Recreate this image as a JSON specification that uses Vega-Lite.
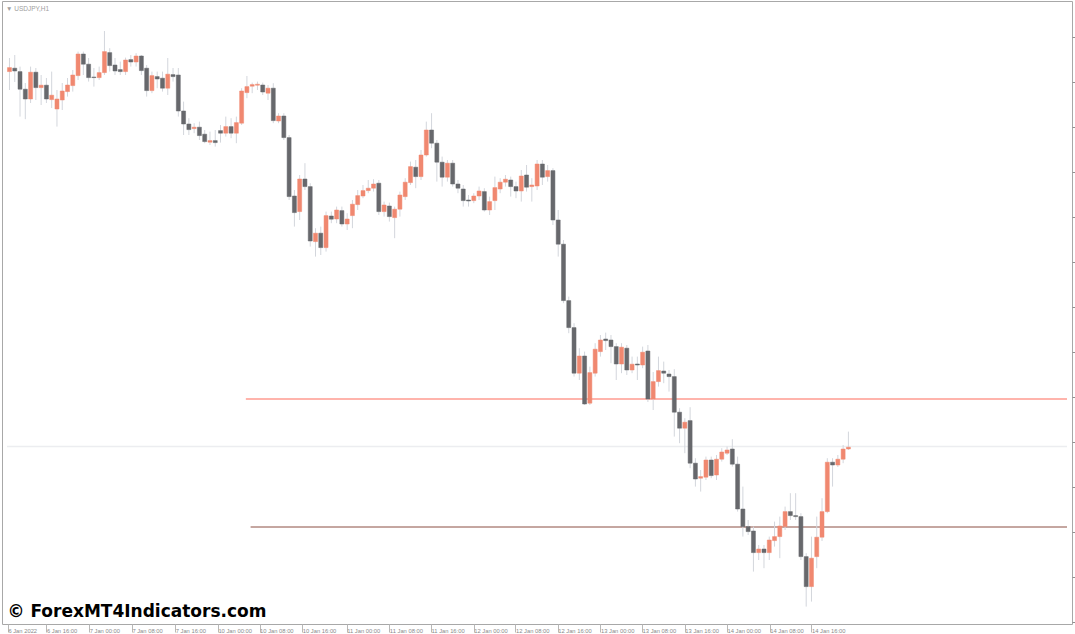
{
  "$schema": "https://vega.github.io/schema/vega-lite/v6.json",
  "width": 1070,
  "height": 623,
  "autosize": {"type": "none"},
  "padding": {"left": 2, "top": 1, "right": 3, "bottom": 10},
  "background": "#ffffff",
  "title": {"text": "▼ USDJPY,H1", "anchor": "start", "frame": "group", "orient": "top", "offset": -14, "dx": 4, "fontSize": 6.5, "font": "Liberation Sans", "fontWeight": "normal", "color": "#a0a0a0", "baseline": "middle"},
  "config": {"view": {"stroke": "#a8a8a8", "strokeWidth": 1}, "axis": {"grid": false}},
  "datasets": {
    "candles": [
      {"i":0,"o":116.142,"h":116.21,"l":116.05,"c":116.162},
      {"i":1,"o":116.159,"h":116.225,"l":116.09,"c":116.145},
      {"i":2,"o":116.142,"h":116.167,"l":115.917,"c":116.054},
      {"i":3,"o":116.054,"h":116.085,"l":115.904,"c":116.005},
      {"i":4,"o":116.005,"h":116.167,"l":115.985,"c":116.139},
      {"i":5,"o":116.139,"h":116.16,"l":116.0,"c":116.062},
      {"i":6,"o":116.062,"h":116.125,"l":115.975,"c":116.074},
      {"i":7,"o":116.074,"h":116.11,"l":115.985,"c":116.005},
      {"i":8,"o":116.002,"h":116.142,"l":115.96,"c":116.024},
      {"i":9,"o":115.955,"h":116.05,"l":115.867,"c":116.005},
      {"i":10,"o":116.0,"h":116.085,"l":115.95,"c":116.045},
      {"i":11,"o":116.042,"h":116.11,"l":116.017,"c":116.075},
      {"i":12,"o":116.072,"h":116.15,"l":116.042,"c":116.125},
      {"i":13,"o":116.122,"h":116.242,"l":116.1,"c":116.23},
      {"i":14,"o":116.23,"h":116.242,"l":116.125,"c":116.179},
      {"i":15,"o":116.179,"h":116.21,"l":116.092,"c":116.112},
      {"i":16,"o":116.115,"h":116.16,"l":116.067,"c":116.112},
      {"i":17,"o":116.112,"h":116.167,"l":116.1,"c":116.137},
      {"i":18,"o":116.137,"h":116.345,"l":116.125,"c":116.242},
      {"i":19,"o":116.237,"h":116.259,"l":116.142,"c":116.172},
      {"i":20,"o":116.175,"h":116.21,"l":116.125,"c":116.145},
      {"i":21,"o":116.152,"h":116.192,"l":116.125,"c":116.142},
      {"i":22,"o":116.142,"h":116.212,"l":116.125,"c":116.2},
      {"i":23,"o":116.202,"h":116.225,"l":116.167,"c":116.19},
      {"i":24,"o":116.19,"h":116.234,"l":116.167,"c":116.22},
      {"i":25,"o":116.22,"h":116.225,"l":116.125,"c":116.147},
      {"i":26,"o":116.159,"h":116.175,"l":116.017,"c":116.047},
      {"i":27,"o":116.047,"h":116.142,"l":116.034,"c":116.122},
      {"i":28,"o":116.117,"h":116.142,"l":116.059,"c":116.105},
      {"i":29,"o":116.109,"h":116.142,"l":116.042,"c":116.059},
      {"i":30,"o":116.059,"h":116.21,"l":116.025,"c":116.129},
      {"i":31,"o":116.127,"h":116.16,"l":116.092,"c":116.117},
      {"i":32,"o":116.125,"h":116.16,"l":115.917,"c":115.945},
      {"i":33,"o":115.945,"h":115.992,"l":115.825,"c":115.88},
      {"i":34,"o":115.88,"h":115.909,"l":115.825,"c":115.852},
      {"i":35,"o":115.857,"h":115.884,"l":115.834,"c":115.864},
      {"i":36,"o":115.864,"h":115.892,"l":115.8,"c":115.822},
      {"i":37,"o":115.829,"h":115.85,"l":115.784,"c":115.792},
      {"i":38,"o":115.789,"h":115.842,"l":115.775,"c":115.797},
      {"i":39,"o":115.797,"h":115.85,"l":115.767,"c":115.787},
      {"i":40,"o":115.847,"h":115.875,"l":115.787,"c":115.834},
      {"i":41,"o":115.834,"h":115.917,"l":115.817,"c":115.867},
      {"i":42,"o":115.867,"h":115.909,"l":115.809,"c":115.834},
      {"i":43,"o":115.834,"h":115.917,"l":115.784,"c":115.887},
      {"i":44,"o":115.884,"h":116.059,"l":115.875,"c":116.045},
      {"i":45,"o":116.037,"h":116.12,"l":116.009,"c":116.067},
      {"i":46,"o":116.069,"h":116.087,"l":116.034,"c":116.077},
      {"i":47,"o":116.074,"h":116.092,"l":116.05,"c":116.079},
      {"i":48,"o":116.075,"h":116.087,"l":116.025,"c":116.04},
      {"i":49,"o":116.034,"h":116.075,"l":116.0,"c":116.059},
      {"i":50,"o":116.059,"h":116.084,"l":115.884,"c":115.897},
      {"i":51,"o":115.895,"h":115.934,"l":115.884,"c":115.92},
      {"i":52,"o":115.92,"h":115.934,"l":115.8,"c":115.812},
      {"i":53,"o":115.812,"h":115.825,"l":115.5,"c":115.517},
      {"i":54,"o":115.52,"h":115.55,"l":115.367,"c":115.437},
      {"i":55,"o":115.442,"h":115.625,"l":115.4,"c":115.605},
      {"i":56,"o":115.605,"h":115.684,"l":115.55,"c":115.567},
      {"i":57,"o":115.567,"h":115.584,"l":115.267,"c":115.295},
      {"i":58,"o":115.292,"h":115.359,"l":115.217,"c":115.334},
      {"i":59,"o":115.334,"h":115.367,"l":115.225,"c":115.262},
      {"i":60,"o":115.262,"h":115.442,"l":115.242,"c":115.422},
      {"i":61,"o":115.42,"h":115.442,"l":115.384,"c":115.404},
      {"i":62,"o":115.405,"h":115.467,"l":115.384,"c":115.45},
      {"i":63,"o":115.447,"h":115.467,"l":115.367,"c":115.38},
      {"i":64,"o":115.38,"h":115.434,"l":115.35,"c":115.405},
      {"i":65,"o":115.422,"h":115.5,"l":115.359,"c":115.479},
      {"i":66,"o":115.477,"h":115.55,"l":115.45,"c":115.522},
      {"i":67,"o":115.52,"h":115.575,"l":115.509,"c":115.547},
      {"i":68,"o":115.547,"h":115.6,"l":115.534,"c":115.559},
      {"i":69,"o":115.559,"h":115.604,"l":115.542,"c":115.58},
      {"i":70,"o":115.584,"h":115.6,"l":115.425,"c":115.442},
      {"i":71,"o":115.442,"h":115.492,"l":115.417,"c":115.475},
      {"i":72,"o":115.47,"h":115.487,"l":115.392,"c":115.417},
      {"i":73,"o":115.412,"h":115.467,"l":115.309,"c":115.454},
      {"i":74,"o":115.454,"h":115.542,"l":115.417,"c":115.525},
      {"i":75,"o":115.517,"h":115.609,"l":115.5,"c":115.589},
      {"i":76,"o":115.587,"h":115.692,"l":115.575,"c":115.667},
      {"i":77,"o":115.664,"h":115.7,"l":115.559,"c":115.617},
      {"i":78,"o":115.617,"h":115.75,"l":115.6,"c":115.725},
      {"i":79,"o":115.725,"h":115.892,"l":115.717,"c":115.85},
      {"i":80,"o":115.85,"h":115.934,"l":115.759,"c":115.784},
      {"i":81,"o":115.784,"h":115.8,"l":115.592,"c":115.689},
      {"i":82,"o":115.689,"h":115.717,"l":115.567,"c":115.614},
      {"i":83,"o":115.614,"h":115.7,"l":115.592,"c":115.684},
      {"i":84,"o":115.684,"h":115.7,"l":115.567,"c":115.58},
      {"i":85,"o":115.58,"h":115.6,"l":115.534,"c":115.559},
      {"i":86,"o":115.555,"h":115.575,"l":115.467,"c":115.497},
      {"i":87,"o":115.5,"h":115.525,"l":115.467,"c":115.495},
      {"i":88,"o":115.497,"h":115.534,"l":115.484,"c":115.52},
      {"i":89,"o":115.52,"h":115.567,"l":115.5,"c":115.545},
      {"i":90,"o":115.542,"h":115.559,"l":115.442,"c":115.45},
      {"i":91,"o":115.45,"h":115.517,"l":115.425,"c":115.492},
      {"i":92,"o":115.497,"h":115.617,"l":115.45,"c":115.562},
      {"i":93,"o":115.555,"h":115.609,"l":115.534,"c":115.589},
      {"i":94,"o":115.589,"h":115.625,"l":115.567,"c":115.604},
      {"i":95,"o":115.6,"h":115.617,"l":115.517,"c":115.567},
      {"i":96,"o":115.567,"h":115.592,"l":115.509,"c":115.545},
      {"i":97,"o":115.545,"h":115.65,"l":115.492,"c":115.62},
      {"i":98,"o":115.625,"h":115.675,"l":115.542,"c":115.564},
      {"i":99,"o":115.567,"h":115.609,"l":115.492,"c":115.575},
      {"i":100,"o":115.57,"h":115.7,"l":115.55,"c":115.68},
      {"i":101,"o":115.68,"h":115.7,"l":115.575,"c":115.614},
      {"i":102,"o":115.617,"h":115.675,"l":115.592,"c":115.647},
      {"i":103,"o":115.647,"h":115.659,"l":115.375,"c":115.4},
      {"i":104,"o":115.4,"h":115.45,"l":115.217,"c":115.279},
      {"i":105,"o":115.279,"h":115.3,"l":114.984,"c":114.997},
      {"i":106,"o":114.997,"h":115.017,"l":114.834,"c":114.862},
      {"i":107,"o":114.862,"h":114.884,"l":114.617,"c":114.634},
      {"i":108,"o":114.634,"h":114.759,"l":114.6,"c":114.72},
      {"i":109,"o":114.72,"h":114.742,"l":114.475,"c":114.48},
      {"i":110,"o":114.484,"h":114.667,"l":114.475,"c":114.637},
      {"i":111,"o":114.634,"h":114.784,"l":114.617,"c":114.754},
      {"i":112,"o":114.742,"h":114.825,"l":114.717,"c":114.8},
      {"i":113,"o":114.805,"h":114.837,"l":114.75,"c":114.797},
      {"i":114,"o":114.8,"h":114.825,"l":114.684,"c":114.767},
      {"i":115,"o":114.767,"h":114.784,"l":114.6,"c":114.68},
      {"i":116,"o":114.68,"h":114.784,"l":114.634,"c":114.764},
      {"i":117,"o":114.759,"h":114.775,"l":114.625,"c":114.65},
      {"i":118,"o":114.65,"h":114.717,"l":114.634,"c":114.679},
      {"i":119,"o":114.68,"h":114.717,"l":114.6,"c":114.675},
      {"i":120,"o":114.675,"h":114.767,"l":114.659,"c":114.739},
      {"i":121,"o":114.745,"h":114.775,"l":114.49,"c":114.505},
      {"i":122,"o":114.505,"h":114.64,"l":114.45,"c":114.592},
      {"i":123,"o":114.592,"h":114.717,"l":114.567,"c":114.647},
      {"i":124,"o":114.645,"h":114.692,"l":114.584,"c":114.634},
      {"i":125,"o":114.63,"h":114.65,"l":114.542,"c":114.617},
      {"i":126,"o":114.617,"h":114.654,"l":114.317,"c":114.439},
      {"i":127,"o":114.439,"h":114.459,"l":114.284,"c":114.359},
      {"i":128,"o":114.359,"h":114.409,"l":114.234,"c":114.389},
      {"i":129,"o":114.397,"h":114.464,"l":114.159,"c":114.184},
      {"i":130,"o":114.184,"h":114.209,"l":114.067,"c":114.105},
      {"i":131,"o":114.109,"h":114.15,"l":114.042,"c":114.117},
      {"i":132,"o":114.114,"h":114.217,"l":114.1,"c":114.2},
      {"i":133,"o":114.2,"h":114.217,"l":114.109,"c":114.122},
      {"i":134,"o":114.125,"h":114.225,"l":114.1,"c":114.204},
      {"i":135,"o":114.204,"h":114.259,"l":114.192,"c":114.24},
      {"i":136,"o":114.234,"h":114.267,"l":114.225,"c":114.25},
      {"i":137,"o":114.255,"h":114.304,"l":114.167,"c":114.179},
      {"i":138,"o":114.179,"h":114.217,"l":113.942,"c":113.955},
      {"i":139,"o":113.955,"h":114.067,"l":113.817,"c":113.867},
      {"i":140,"o":113.867,"h":113.9,"l":113.825,"c":113.842},
      {"i":141,"o":113.845,"h":113.867,"l":113.642,"c":113.737},
      {"i":142,"o":113.737,"h":113.775,"l":113.7,"c":113.755},
      {"i":143,"o":113.755,"h":113.775,"l":113.659,"c":113.737},
      {"i":144,"o":113.737,"h":113.817,"l":113.7,"c":113.8},
      {"i":145,"o":113.797,"h":113.892,"l":113.767,"c":113.817},
      {"i":146,"o":113.817,"h":113.917,"l":113.709,"c":113.87},
      {"i":147,"o":113.867,"h":113.967,"l":113.85,"c":113.942},
      {"i":148,"o":113.942,"h":114.034,"l":113.9,"c":113.922},
      {"i":149,"o":113.922,"h":114.034,"l":113.9,"c":113.917},
      {"i":150,"o":113.917,"h":113.934,"l":113.7,"c":113.717},
      {"i":151,"o":113.717,"h":113.734,"l":113.467,"c":113.567},
      {"i":152,"o":113.567,"h":113.817,"l":113.492,"c":113.709},
      {"i":153,"o":113.717,"h":113.917,"l":113.659,"c":113.814},
      {"i":154,"o":113.814,"h":114.009,"l":113.795,"c":113.942},
      {"i":155,"o":113.942,"h":114.209,"l":113.934,"c":114.189},
      {"i":156,"o":114.189,"h":114.209,"l":114.067,"c":114.175},
      {"i":157,"o":114.175,"h":114.225,"l":114.165,"c":114.204},
      {"i":158,"o":114.204,"h":114.275,"l":114.184,"c":114.255},
      {"i":159,"o":114.255,"h":114.342,"l":114.25,"c":114.264}
    ]
  },
  "layer": [
    {
      "data": {"values": [{"s": -0.469, "e": 200.43, "p": 114.2675}]},
      "mark": {"type": "rule", "color": "#ecedf0", "strokeWidth": 1.5},
      "encoding": {
        "x": {"field": "s", "type": "quantitative", "scale": {"domain": [-0.469, 200.43], "nice": false, "zero": false}},
        "x2": {"field": "e"},
        "y": {"field": "p", "type": "quantitative", "scale": {"domain": [113.38, 116.495], "nice": false, "zero": false}}
      }
    },
    {
      "data": {"values": [{"s": 44.8, "e": 200.43, "p": 114.505}]},
      "mark": {"type": "rule", "color": "#ffb4ac", "strokeWidth": 1.8},
      "encoding": {
        "x": {"field": "s", "type": "quantitative", "scale": {"domain": [-0.469, 200.43], "nice": false, "zero": false}},
        "x2": {"field": "e"},
        "y": {"field": "p", "type": "quantitative", "scale": {"domain": [113.38, 116.495], "nice": false, "zero": false}}
      }
    },
    {
      "data": {"values": [{"s": 45.7, "e": 200.43, "p": 113.865}]},
      "mark": {"type": "rule", "color": "#8b4f42", "strokeWidth": 1},
      "encoding": {
        "x": {"field": "s", "type": "quantitative", "scale": {"domain": [-0.469, 200.43], "nice": false, "zero": false}},
        "x2": {"field": "e"},
        "y": {"field": "p", "type": "quantitative", "scale": {"domain": [113.38, 116.495], "nice": false, "zero": false}}
      }
    },
    {
      "data": {"name": "candles"},
      "mark": {"type": "rule", "color": "#d3d6dc", "strokeWidth": 1},
      "encoding": {
        "x": {
          "field": "i", "type": "quantitative",
          "scale": {"domain": [-0.469, 200.43], "nice": false, "zero": false},
          "axis": {
            "orient": "bottom",
            "values": [-0.3, 7, 15.1, 23.2, 31.4, 39.5, 47.4, 55.5, 63.9, 72, 79.9, 88, 95.9, 103.9, 112, 119.9, 128, 136, 144.1, 152],
            "labelExpr": "datum.value<3.5?'6 Jan 2022':datum.value<11?'6 Jan 16:00':datum.value<19?'7 Jan 00:00':datum.value<27?'7 Jan 08:00':datum.value<35?'7 Jan 16:00':datum.value<43?'10 Jan 00:00':datum.value<51?'10 Jan 08:00':datum.value<59.5?'10 Jan 16:00':datum.value<68?'11 Jan 00:00':datum.value<76?'11 Jan 08:00':datum.value<84?'11 Jan 16:00':datum.value<92?'12 Jan 00:00':datum.value<100?'12 Jan 08:00':datum.value<108?'12 Jan 16:00':datum.value<116?'13 Jan 00:00':datum.value<124?'13 Jan 08:00':datum.value<132?'13 Jan 16:00':datum.value<140?'14 Jan 00:00':datum.value<148?'14 Jan 08:00':'14 Jan 16:00'",
            "labelAlign": "left", "labelDx": 2, "labelBaseline": "top", "labelPadding": -5,
            "labelFontSize": 5.8, "labelFont": "Liberation Sans", "labelColor": "#8a8a8a",
            "labelFlush": false, "labelOverlap": false, "labelBound": false,
            "tickSize": 8, "tickColor": "#b8b8b8", "domain": false, "grid": false,
            "title": "© ForexMT4Indicators.com", "titleFont": "DejaVu Sans", "titleFontSize": 17, "titleFontWeight": "bold", "titleColor": "#000000",
            "titleX": 5, "titleY": -8, "titleAlign": "left", "titleBaseline": "alphabetic", "titleAnchor": "start"
          }
        },
        "y": {
          "field": "l", "type": "quantitative",
          "scale": {"domain": [113.38, 116.495], "nice": false, "zero": false},
          "axis": {
            "orient": "right", "title": null, "labels": false, "domain": false, "grid": false,
            "tickSize": 3, "tickColor": "#909090",
            "values": [113.39, 113.5025, 113.615, 113.7275, 113.84, 113.9525, 114.065, 114.1775, 114.29, 114.4025, 114.515, 114.6275, 114.74, 114.8525, 114.965, 115.0775, 115.19, 115.3025, 115.415, 115.5275, 115.64, 115.7525, 115.865, 115.9775, 116.09, 116.2025, 116.315, 116.4275]
          }
        },
        "y2": {"field": "h"}
      }
    },
    {
      "data": {"name": "candles"},
      "mark": {"type": "bar", "size": 4, "strokeWidth": 0.5},
      "encoding": {
        "x": {"field": "i", "type": "quantitative", "scale": {"domain": [-0.469, 200.43], "nice": false, "zero": false}},
        "y": {"field": "o", "type": "quantitative", "scale": {"domain": [113.38, 116.495], "nice": false, "zero": false}},
        "y2": {"field": "c"},
        "color": {"condition": {"test": "datum.c > datum.o", "value": "#f08870"}, "value": "#67686c"},
        "stroke": {"condition": {"test": "datum.c > datum.o", "value": "#f08870"}, "value": "#67686c"}
      }
    }
  ]
}
